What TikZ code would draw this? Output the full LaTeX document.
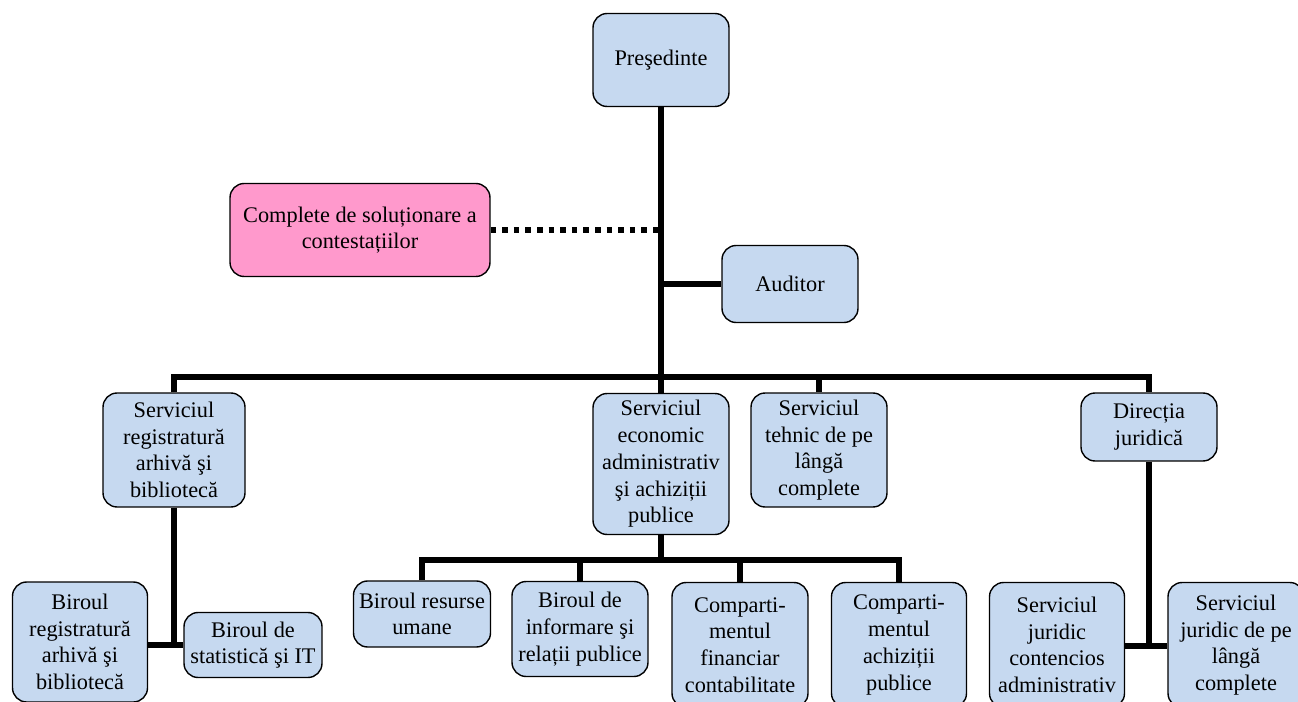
\documentclass[tikz,border=0pt]{standalone}
\usepackage{fontspec}
\setmainfont{Liberation Serif}
\definecolor{boxblue}{RGB}{198,217,240}
\definecolor{boxpink}{RGB}{255,153,204}

\begin{document}
\begin{tikzpicture}[x=0.02cm, y=-0.02cm,
    orgbox/.style={draw, line width=0.8pt, rounded corners=8pt, fill=boxblue, align=center,
        inner sep=1pt, minimum width=2.72cm, font=\fontsize{12.7}{15.2}\selectfont},
    link/.style={line width=3.2pt, line join=miter},
    dotlink/.style={line width=3.2pt, dash pattern=on 3.2pt off 3.4pt}]
    \useasboundingbox (0,0) rectangle (1298,702);

    % Level 0: president, councils, auditor
    \node[orgbox, minimum height=1.86cm] (pres) at (661,60) {Preşedinte};
    \node[orgbox, fill=boxpink, minimum width=5.2cm, minimum height=1.86cm] (compl) at (360,230) {Complete de soluționare a\\contestațiilor};
    \node[orgbox, minimum height=1.54cm] (aud) at (790,284) {Auditor};

    % Level 1: services and directorate
    \node[orgbox, minimum width=2.84cm, minimum height=2.28cm] (sreg) at (174,450) {Serviciul\\registratură\\arhivă şi\\bibliotecă};
    \node[orgbox, minimum height=2.82cm] (secon) at (661,464) {Serviciul\\economic\\administrativ\\şi achiziții\\publice};
    \node[orgbox, minimum height=2.28cm] (stehn) at (819,450) {Serviciul\\tehnic de pe\\lângă\\complete};
    \node[orgbox, minimum height=1.36cm] (djur) at (1149,427) {Direcția\\juridică};

    % Level 2: offices
    \node[orgbox, minimum width=2.7cm, minimum height=2.4cm] (breg) at (80,642) {Biroul\\registratură\\arhivă şi\\bibliotecă};
    \node[orgbox, minimum width=2.76cm, minimum height=1.3cm] (bstat) at (253,645) {Biroul de\\statistică şi IT};
    \node[orgbox, minimum width=2.74cm, minimum height=1.32cm] (bru) at (422,614) {Biroul resurse\\umane};
    \node[orgbox, minimum height=1.9cm] (binf) at (580,629) {Biroul de\\informare şi\\relații publice};
    \node[orgbox, minimum height=2.5cm] (cfin) at (740,645) {Comparti-\\mentul\\financiar\\contabilitate};
    \node[orgbox, minimum width=2.7cm, minimum height=2.5cm] (cach) at (899,645) {Comparti-\\mentul\\achiziții\\publice};
    \node[orgbox, minimum width=2.7cm, minimum height=2.5cm] (sjc) at (1057,645) {Serviciul\\juridic\\contencios\\administrativ};
    \node[orgbox, minimum height=2.5cm] (sjpl) at (1236,645) {Serviciul\\juridic de pe\\lângă\\complete};

    % Connectors
    \coordinate (bus) at (661,377);
    \coordinate (bus2) at (661,560);
    \coordinate (jreg) at (175,645);
    \coordinate (jjur) at (1149,646);

    \draw[link] (pres.south) -- (secon.north);
    \draw[link] (sreg.north) -- (sreg.north |- bus) -- (djur.north |- bus) -- (djur.north);
    \draw[link] (stehn.north) -- (stehn.north |- bus);
    \draw[link] (pres.south |- aud.west) -- (aud.west);
    \draw[dotlink] (compl.east) -- (compl.east -| pres.south);

    \draw[link] (sreg.south) -- (sreg.south |- jreg);
    \draw[link] (breg.east |- jreg) -- (bstat.west |- jreg);

    \draw[link] (secon.south) -- (secon.south |- bus2);
    \draw[link] (bru.north) -- (bru.north |- bus2) -- (cach.north |- bus2) -- (cach.north);
    \draw[link] (binf.north) -- (binf.north |- bus2);
    \draw[link] (cfin.north) -- (cfin.north |- bus2);

    \draw[link] (djur.south) -- (djur.south |- jjur);
    \draw[link] (sjc.east |- jjur) -- (sjpl.west |- jjur);
\end{tikzpicture}
\end{document}
